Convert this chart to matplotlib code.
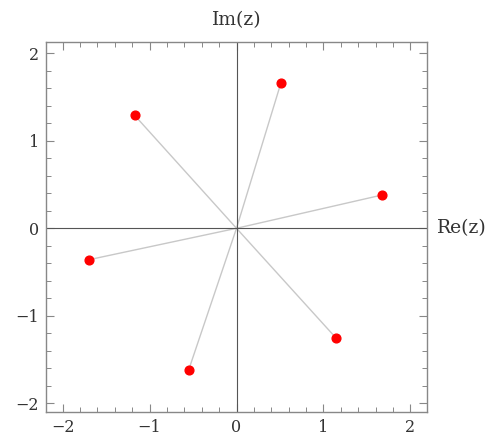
import numpy as np
import matplotlib.pyplot as plt
from matplotlib.ticker import MultipleLocator

# roots
re_vals = [1.67, 0.51, -1.17, -1.70, -0.55, 1.14]
im_vals = [0.38, 1.66, 1.29, -0.36, -1.62, -1.25]

plt.rcParams['font.family'] = ['DejaVu Serif']

fig = plt.figure(figsize=(4.94, 4.41), dpi=100)
ax = fig.add_axes([0.0931, 0.0658, 0.7713, 0.839])

for x, y in zip(re_vals, im_vals):
    ax.plot([0, x], [0, y], color='#c8c8c8', lw=1.0, zorder=1)
ax.plot(re_vals, im_vals, 'o', color='red', ms=6.3, mec='red', zorder=3)

ax.axhline(0, color='#555555', lw=0.8, zorder=2)
ax.axvline(0, color='#555555', lw=0.8, zorder=2)

ax.set_xlim(-2.19, 2.19)
ax.set_ylim(-2.10, 2.13)

ax.xaxis.set_major_locator(MultipleLocator(1))
ax.yaxis.set_major_locator(MultipleLocator(1))
ax.xaxis.set_minor_locator(MultipleLocator(0.2))
ax.yaxis.set_minor_locator(MultipleLocator(0.2))
ax.tick_params(which='both', direction='in', top=True, right=True, color='#888888',
               labelsize=11.5, labelcolor='#333333')
ax.tick_params(which='major', length=6, width=0.8, pad=5)
ax.tick_params(which='minor', length=3.5, width=0.7)
for s in ax.spines.values():
    s.set_color('#888888')
    s.set_linewidth(1.0)

ax.text(0, 1.035, 'Im(z)', transform=ax.get_xaxis_transform(), ha='center', va='bottom',
        fontsize=13.5, color='#333333')
ax.text(1.025, 0, 'Re(z)', transform=ax.get_yaxis_transform(), ha='left', va='center',
        fontsize=13.5, color='#333333')

fig.savefig('out.png')
